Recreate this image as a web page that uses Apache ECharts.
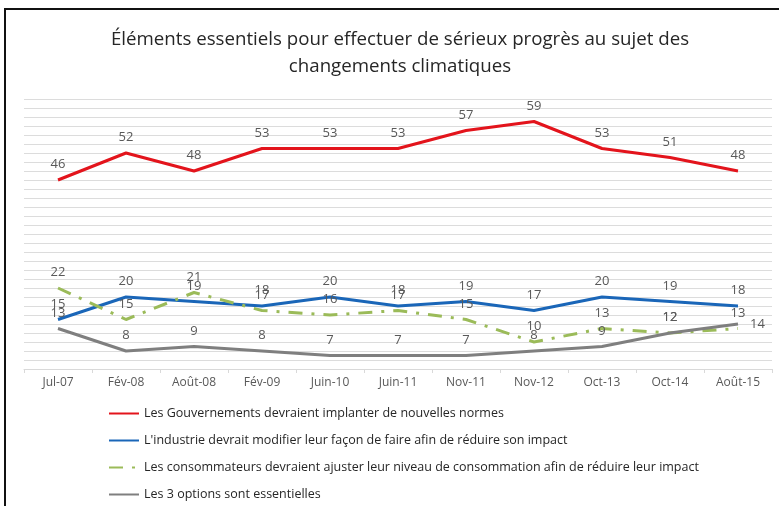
<!DOCTYPE html>
<html>
<head>
<meta charset="utf-8">
<script src="https://cdn.jsdelivr.net/npm/echarts@6/dist/echarts.min.js"></script>
<style>
  html, body { margin: 0; padding: 0; background: #fff; }
  #frame { position: absolute; left: 4px; top: 8px; width: 790px; height: 510px; border: 2px solid #111; box-sizing: border-box; }
  #chart { position: absolute; left: 0; top: 0; width: 779px; height: 506px; }
</style>
</head>
<body>
<div id="frame"></div>
<div id="chart"></div>
<script>
  // periodes du sondage
  const categories = ['Jul-07', 'Fév-08', 'Août-08', 'Fév-09', 'Juin-10', 'Juin-11', 'Nov-11', 'Nov-12', 'Oct-13', 'Oct-14', 'Août-15'];

  const gouvernements = [46, 52, 48, 53, 53, 53, 57, 59, 53, 51, 48];
  const industrie = [15, 20, 19, 18, 20, 18, 19, 17, 20, 19, 18];
  const consommateurs = [22, 15, 21, 17, 16, 17, 15, 10, 13, 12, 13];
  const troisOptions = [13, 8, 9, 8, 7, 7, 7, 8, 9, 12, 14];

  const seriesNames = [
    'Les Gouvernements devraient implanter de nouvelles normes',
    "L'industrie devrait modifier leur façon de faire afin de réduire son impact",
    'Les consommateurs devraient ajuster leur niveau de consommation afin de réduire leur impact',
    'Les 3 options sont essentielles'
  ];

  const chart = echarts.init(document.getElementById('chart'));

  const labelStyle = {
    show: true,
    position: 'top',
    distance: 9,
    color: '#595959',
    fontSize: 13,
    fontFamily: 'Open Sans'
  };

  function makeSeries(name, data, color, type) {
    return {
      name: name,
      type: 'line',
      data: data,
      symbol: 'circle',
      symbolSize: 0.1,
      lineStyle: { color: color, width: 3, type: type || 'solid' },
      itemStyle: { color: color },
      label: labelStyle,
      z: 3
    };
  }

  // le dernier point de la serie grise a son etiquette a droite
  const grisData = troisOptions.map((v, i) => i === troisOptions.length - 1
    ? { value: v, label: { position: 'right', distance: 12 } }
    : v);

  chart.setOption({
    animation: false,
    title: {
      text: 'Éléments essentiels pour effectuer de sérieux progrès au sujet des\nchangements climatiques',
      left: 395,
      top: 21,
      textAlign: 'center',
      textStyle: {
        fontFamily: 'Open Sans',
        fontSize: 18.7,
        fontWeight: 'normal',
        color: '#262626',
        lineHeight: 27
      }
    },
    legend: {
      orient: 'vertical',
      left: 103,
      top: 402,
      itemGap: 14,
      itemWidth: 30,
      itemHeight: 13,
      itemStyle: { opacity: 0 },
      textStyle: { fontFamily: 'Open Sans', fontSize: 12.5, color: '#262626' },
      data: seriesNames
    },
    grid: { left: 24, right: 7, top: 99, bottom: 137 },
    xAxis: {
      type: 'category',
      data: categories,
      boundaryGap: true,
      axisLine: { lineStyle: { color: '#D9D9D9' } },
      axisTick: { show: true, length: 4, lineStyle: { color: '#D9D9D9' } },
      axisLabel: { color: '#595959', fontFamily: 'Open Sans', fontSize: 12, margin: 8 }
    },
    yAxis: {
      type: 'value',
      min: 4,
      max: 64,
      interval: 2,
      axisLabel: { show: false },
      axisLine: { show: false },
      axisTick: { show: false },
      splitLine: { lineStyle: { color: '#DCDCDC', width: 1 } }
    },
    series: [
      makeSeries(seriesNames[0], gouvernements, '#E3141C'),
      makeSeries(seriesNames[1], industrie, '#1A66B8'),
      makeSeries(seriesNames[2], consommateurs, '#9BBB59', [14, 9, 3, 9]),
      makeSeries(seriesNames[3], grisData, '#7F7F7F')
    ]
  });
</script>
</body>
</html>
